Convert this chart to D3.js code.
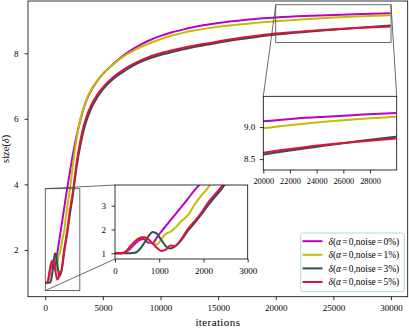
<!DOCTYPE html>
<html>
<head>
<meta charset="utf-8">
<script src="https://cdn.jsdelivr.net/npm/d3@7"></script>
<style>
body { margin: 0; background: #fff; }
svg { display: block; font-family: 'Liberation Serif', 'DejaVu Serif', serif; }
</style>
</head>
<body>
<svg></svg>
<script>
// data
let iterations = [0, 150, 250, 350, 450, 550, 650, 750, 850, 950, 1050, 1150, 1250, 1350, 1500, 1650, 1800, 1950,
    2100, 2250, 2400, 2550, 2700, 2850, 3000, 3250, 3500, 4000, 4500, 5000, 6000, 7000, 8000, 9000,
    10000, 11000, 12000, 13000, 14000, 16000, 18000, 20000, 22500, 25000, 27500, 29950];

let noise0 = [1.0, 1.0, 1.05, 1.2, 1.4, 1.55, 1.6, 1.45, 1.42, 1.68, 1.92, 2.15, 2.38, 2.6, 2.95, 3.3, 3.65, 3.98,
    4.3, 4.62, 4.92, 5.2, 5.45, 5.68, 5.9, 6.22, 6.5, 6.88, 7.15, 7.37, 7.7, 7.99, 8.21, 8.39,
    8.53, 8.64, 8.73, 8.81, 8.87, 8.97, 9.04, 9.09, 9.135, 9.165, 9.195, 9.22];

let noise1 = [1.0, 1.0, 1.08, 1.3, 1.5, 1.65, 1.68, 1.55, 1.42, 1.37, 1.6, 1.82, 1.9, 2.05, 2.35, 2.6, 3.05, 3.42,
    3.75, 4.15, 4.6, 5.0, 5.35, 5.65, 5.92, 6.25, 6.52, 6.9, 7.16, 7.37, 7.69, 7.95, 8.14, 8.3,
    8.43, 8.54, 8.63, 8.7, 8.76, 8.85, 8.92, 8.98, 9.04, 9.09, 9.13, 9.16];

let noise3 = [1.0, 1.0, 1.0, 1.0, 1.02, 1.15, 1.4, 1.7, 1.9, 1.82, 1.55, 1.3, 1.2, 1.28, 1.55, 1.95, 2.28, 2.62,
    3.0, 3.35, 3.68, 4.08, 4.48, 4.82, 5.1, 5.53, 5.86, 6.33, 6.65, 6.9, 7.25, 7.49, 7.69, 7.84,
    7.95, 8.04, 8.12, 8.2, 8.26, 8.38, 8.48, 8.57, 8.65, 8.72, 8.79, 8.85];

let noise5 = [1.0, 1.0, 1.08, 1.3, 1.5, 1.63, 1.67, 1.6, 1.42, 1.22, 1.1, 1.15, 1.33, 1.3, 1.6, 2.03, 2.35, 2.7,
    3.12, 3.45, 3.78, 4.2, 4.62, 4.95, 5.25, 5.67, 5.98, 6.43, 6.73, 6.96, 7.3, 7.55, 7.74, 7.89,
    8.0, 8.09, 8.17, 8.24, 8.3, 8.42, 8.52, 8.6, 8.67, 8.73, 8.78, 8.82];

let noiseLabels = ['0%', '1%', '3%', '5%'];

let xTicks = [0, 5000, 10000, 15000, 20000, 25000, 30000];
let yTicks = [2, 4, 6, 8];
let lateTicksX = [20000, 22000, 24000, 26000, 28000];
let lateTicksY = [8.5, 9.0];
let earlyTicksX = [0, 1000, 2000, 3000];
let earlyTicksY = [1, 2, 3];

let series = [noise0, noise1, noise3, noise5];
let colors = ['#bf00bf', '#bfbf00', '#2f4f4f', '#dc143c'];

let svgWidth = 409, svgHeight = 328;
let svg = d3.select('svg').attr('width', svgWidth).attr('height', svgHeight);

// main axes
let x = d3.scaleLinear().domain([-1497, 31447]).range([28, 407.7]);
let y = d3.scaleLinear().domain([0.575, 9.595]).range([296.7, 1]);

// insets
let xLate = d3.scaleLinear().domain([20000, 30000]).range([263.3, 396.7]);
let yLate = d3.scaleLinear().domain([8.33, 9.48]).range([170, 96.3]);
let xEarly = d3.scaleLinear().domain([0, 3000]).range([115, 247.7]);
let yEarly = d3.scaleLinear().domain([0.76, 3.87]).range([259, 185]);

function drawLines(g, xs, ys, clipId) {
    g.append('clipPath').attr('id', clipId).append('rect')
        .attr('x', xs.range()[0])
        .attr('y', ys.range()[1])
        .attr('width', xs.range()[1] - xs.range()[0])
        .attr('height', ys.range()[0] - ys.range()[1]);

    let line = d3.line()
        .x((d, i) => xs(iterations[i]))
        .y(d => ys(d))
        .curve(d3.curveMonotoneX);

    g.append('g')
        .attr('clip-path', 'url(#' + clipId + ')')
        .selectAll('path')
        .data(series)
        .enter()
        .append('path')
        .attr('d', line)
        .attr('fill', 'none')
        .attr('stroke', (d, i) => colors[i])
        .attr('stroke-width', 2)
        .attr('stroke-linejoin', 'round');
}

function drawAxes(g, xs, ys, xt, yt, xFmt, yFmt, xPad, yPad, xFont) {
    let xa = g.append('g')
        .attr('transform', 'translate(0,' + ys.range()[0] + ')')
        .call(d3.axisBottom(xs).tickValues(xt).tickFormat(xFmt).tickSize(3.5).tickSizeOuter(0).tickPadding(xPad));
    let ya = g.append('g')
        .attr('transform', 'translate(' + xs.range()[0] + ',0)')
        .call(d3.axisLeft(ys).tickValues(yt).tickFormat(yFmt).tickSize(3.5).tickSizeOuter(0).tickPadding(yPad));

    [xa, ya].forEach(a => {
        a.select('.domain').remove();
        a.attr('font-family', null).attr('font-size', null);
        a.selectAll('line').attr('stroke', '#000').attr('stroke-width', 0.8);
        a.selectAll('text').attr('fill', '#000').style('font-size', '9px');
    });
    xa.selectAll('text').style('font-size', xFont + 'px');

    g.append('rect')
        .attr('x', xs.range()[0])
        .attr('y', ys.range()[1])
        .attr('width', xs.range()[1] - xs.range()[0])
        .attr('height', ys.range()[0] - ys.range()[1])
        .attr('fill', 'none')
        .attr('stroke', '#000')
        .attr('stroke-width', 0.8);
}

// main panel
let main = svg.append('g');
drawLines(main, x, y, 'clipMain');

// inset markers in the main panel
let marks = svg.append('g').attr('fill', 'none').attr('stroke', '#444').attr('stroke-width', 0.8);

marks.append('rect')
    .attr('x', x(20000)).attr('y', y(yLate.domain()[1]))
    .attr('width', x(30000) - x(20000))
    .attr('height', y(yLate.domain()[0]) - y(yLate.domain()[1]));
marks.append('line')
    .attr('x1', x(20000)).attr('y1', y(yLate.domain()[1]))
    .attr('x2', xLate.range()[0]).attr('y2', yLate.range()[1]);
marks.append('line')
    .attr('x1', x(30000)).attr('y1', y(yLate.domain()[1]))
    .attr('x2', xLate.range()[1]).attr('y2', yLate.range()[1]);

marks.append('rect')
    .attr('x', x(0)).attr('y', y(yEarly.domain()[1]))
    .attr('width', x(3000) - x(0))
    .attr('height', y(yEarly.domain()[0]) - y(yEarly.domain()[1]));
marks.append('line')
    .attr('x1', x(0)).attr('y1', y(yEarly.domain()[1]))
    .attr('x2', xEarly.range()[0]).attr('y2', yEarly.range()[1]);
marks.append('line')
    .attr('x1', x(0)).attr('y1', y(yEarly.domain()[0]))
    .attr('x2', xEarly.range()[0]).attr('y2', yEarly.range()[0]);

drawAxes(main, x, y, xTicks, yTicks, d3.format('d'), d3.format('d'), 4.5, 6, 9);

// late inset
let late = svg.append('g');
late.append('rect')
    .attr('x', xLate.range()[0]).attr('y', yLate.range()[1])
    .attr('width', xLate.range()[1] - xLate.range()[0])
    .attr('height', yLate.range()[0] - yLate.range()[1])
    .attr('fill', '#fff');
drawLines(late, xLate, yLate, 'clipLate');
drawAxes(late, xLate, yLate, lateTicksX, lateTicksY, d3.format('d'), d3.format('.1f'), 5, 4.5, 8.3);

// early inset
let early = svg.append('g');
early.append('rect')
    .attr('x', xEarly.range()[0]).attr('y', yEarly.range()[1])
    .attr('width', xEarly.range()[1] - xEarly.range()[0])
    .attr('height', yEarly.range()[0] - yEarly.range()[1])
    .attr('fill', '#fff');
drawLines(early, xEarly, yEarly, 'clipEarly');
drawAxes(early, xEarly, yEarly, earlyTicksX, earlyTicksY, d3.format('d'), d3.format('d'), 5.5, 5.5, 9);

// axis labels
svg.append('text')
    .attr('x', (x.range()[0] + x.range()[1]) / 2)
    .attr('y', 325.5)
    .attr('text-anchor', 'middle')
    .style('font-size', '11px')
    .style('letter-spacing', '0.4px')
    .text('iterations');

let yLabel = svg.append('text')
    .attr('transform', 'translate(9,' + (y.range()[0] + y.range()[1]) / 2 + ') rotate(-90)')
    .attr('text-anchor', 'middle')
    .style('font-size', '10.5px');
yLabel.append('tspan').text('size(');
yLabel.append('tspan').style('font-style', 'italic').text('δ');
yLabel.append('tspan').text(')');

// legend
let legend = svg.append('g');
legend.append('rect')
    .attr('x', 300.7).attr('y', 233)
    .attr('width', 103.6).attr('height', 58.7)
    .attr('rx', 2.5)
    .attr('fill', '#fff')
    .attr('stroke', '#add8e6')
    .attr('stroke-width', 1);

let entries = legend.selectAll('g.entry')
    .data(noiseLabels)
    .enter()
    .append('g')
    .attr('class', 'entry')
    .attr('transform', (d, i) => 'translate(0,' + (241.2 + i * 13.6) + ')');

entries.append('line')
    .attr('x1', 302.5).attr('x2', 322.5)
    .attr('stroke', (d, i) => colors[i])
    .attr('stroke-width', 2);

let label = entries.append('text')
    .attr('x', 328.5)
    .attr('dy', '0.35em')
    .style('font-size', '9.5px');
label.append('tspan').style('font-style', 'italic').text('δ');
label.append('tspan').text('(');
label.append('tspan').style('font-style', 'italic').text('α');
label.append('tspan').attr('dx', 1.1).text('=');
label.append('tspan').attr('dx', 1.1).text('0,noise');
label.append('tspan').attr('dx', 1.1).text('=');
label.append('tspan').attr('dx', 1.1).text(d => d + ')');
</script>
</body>
</html>
